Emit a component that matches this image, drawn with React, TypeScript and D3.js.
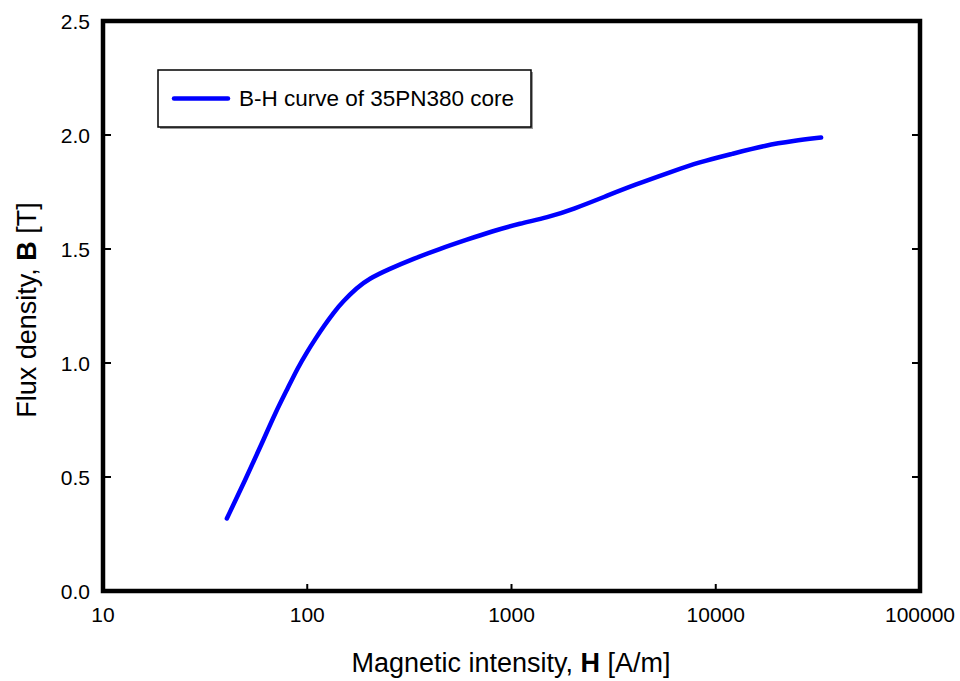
import React from "react";
import * as d3 from "d3";

const hValues = [40.4, 50, 60, 70, 80, 90, 100, 110, 120, 135, 150, 175, 200, 250, 330, 450, 600, 800, 1100, 1500, 2000, 3000, 4000, 6000, 8300, 12000, 17600, 24000, 32800];
const bValues = [0.318, 0.492, 0.648, 0.784, 0.887, 0.980, 1.050, 1.108, 1.159, 1.223, 1.271, 1.330, 1.369, 1.411, 1.457, 1.502, 1.540, 1.577, 1.612, 1.638, 1.674, 1.737, 1.781, 1.837, 1.881, 1.917, 1.955, 1.974, 1.989];
const xTicks = [10, 100, 1000, 10000, 100000];
const xTickLabels = ["10", "100", "1000", "10000", "100000"];
const yTicks = [0, 0.5, 1.0, 1.5, 2.0, 2.5];
const yTickLabels = ["0.0", "0.5", "1.0", "1.5", "2.0", "2.5"];
const legendLabel = "B-H curve of 35PN380 core";

const W = 960;
const H = 681;
const left = 103;
const right = 920;
const top = 21;
const bottom = 591;
const font = "Arial, 'Liberation Sans', sans-serif";

export default function App() {
  const x = d3.scaleLog().domain([10, 100000]).range([left, right]);
  const y = d3.scaleLinear().domain([0, 2.5]).range([bottom, top]);
  const pts: [number, number][] = hValues.map((h, i) => [x(h), y(bValues[i])]);
  const line = d3.line<[number, number]>().x((d) => d[0]).y((d) => d[1]).curve(d3.curveBasis);
  const path = line(pts) || "";

  return (
    <svg width={W} height={H} style={{ position: "absolute", left: 0, top: 0, background: "#fff" }}>
      <rect x={0} y={0} width={W} height={H} fill="#fff" />
      {yTicks.slice(1, -1).map((t) => (
        <g key={"yt" + t}>
          <line x1={left} x2={left + 8} y1={y(t)} y2={y(t)} stroke="#000" strokeWidth={2} />
          <line x1={right - 8} x2={right} y1={y(t)} y2={y(t)} stroke="#000" strokeWidth={2} />
        </g>
      ))}
      {xTicks.slice(1, -1).map((t) => (
        <line key={"xt" + t} x1={x(t)} x2={x(t)} y1={bottom} y2={bottom - 7} stroke="#000" strokeWidth={2} />
      ))}
      <path d={path} fill="none" stroke="#0000ff" strokeWidth={4.5} strokeLinecap="round" strokeLinejoin="round" />
      <rect x={left} y={top} width={right - left} height={bottom - top} fill="none" stroke="#000" strokeWidth={4.5} />
      {yTicks.map((t, i) => (
        <text key={"yl" + t} x={90} y={y(t) + 7.5} textAnchor="end" fontFamily={font} fontSize={21} fill="#000">
          {yTickLabels[i]}
        </text>
      ))}
      {xTicks.map((t, i) => (
        <text key={"xl" + t} x={x(t)} y={621.5} textAnchor="middle" fontFamily={font} fontSize={21} fill="#000">
          {xTickLabels[i]}
        </text>
      ))}
      <text x={511} y={672} textAnchor="middle" fontFamily={font} fontSize={27} fill="#000">
        Magnetic intensity, <tspan fontWeight="bold">H</tspan> [A/m]
      </text>
      <text transform="translate(36,310) rotate(-90)" textAnchor="middle" fontFamily={font} fontSize={27} fill="#000">
        Flux density, <tspan fontWeight="bold">B</tspan> [T]
      </text>
      <rect x={160} y={72} width={373} height={57} fill="#999" />
      <rect x={158} y={70} width={373} height={57} fill="#fff" stroke="#000" strokeWidth={1.5} />
      <line x1={174} x2={228} y1={98.5} y2={98.5} stroke="#0000ff" strokeWidth={4.5} strokeLinecap="round" />
      <text x={239} y={106} fontFamily={font} fontSize={22.5} fill="#000">
        {legendLabel}
      </text>
    </svg>
  );
}
